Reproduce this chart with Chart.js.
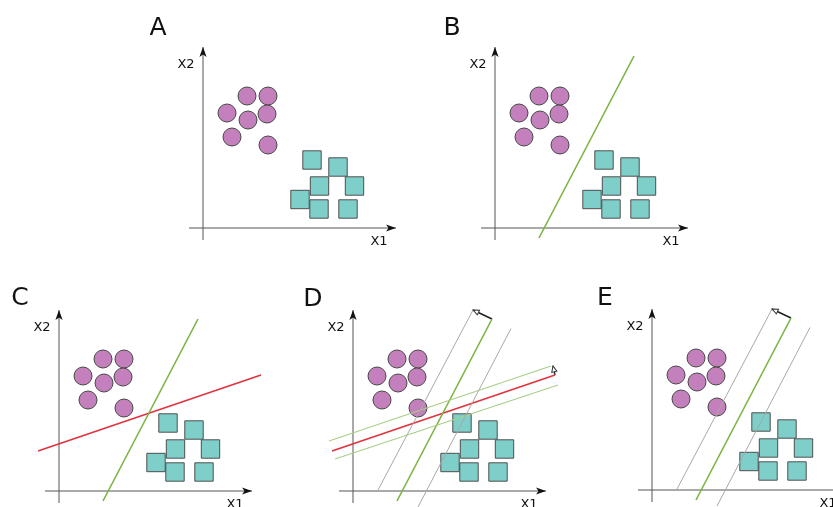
<!DOCTYPE html>
<html lang="en">
<head>
<meta charset="UTF-8">
<script src="https://cdn.jsdelivr.net/npm/chart.js"></script>
<title>Separating hyperplanes</title>
<style>
  body { margin: 0; width: 833px; height: 507px; overflow: hidden; background: #fff; position: relative; }
  canvas { position: absolute; }
</style>
</head>
<body>
<canvas id="panelA" width="270" height="240" style="left:143px;top:13px"></canvas>
<canvas id="panelB" width="270" height="240" style="left:435px;top:13px"></canvas>
<canvas id="panelC" width="270" height="240" style="left:-1px;top:276px"></canvas>
<canvas id="panelD" width="270" height="240" style="left:293px;top:276px"></canvas>
<canvas id="panelE" width="270" height="240" style="left:592px;top:275px"></canvas>

<script>
// class 1 (circles) and class 2 (squares), same in every panel
const circleX = [4.4, 6.5, 2.4, 4.5, 6.4, 2.9, 6.5];
const circleY = [13.2, 13.2, 11.5, 10.8, 11.4, 9.1, 8.3];
const squareX = [10.9, 13.5, 11.65, 15.15, 9.7, 11.6, 14.5];
const squareY = [6.8, 6.1, 4.2, 4.2, 2.85, 1.9, 1.9];

// axes (from, to)
const xAxisRange = [-1.4, 19.3];
const yAxisRange = [-1.2, 18.1];

// lines as [x1, y1, x2, y2]
const greenBoundary = [4.4, -1.0, 13.9, 17.2];
const redBoundary = [-2.1, 4.0, 20.2, 11.6];
const greenMarginLeft = [2.45, 0, 12.0, 18.1];
const greenMarginRight = [6.5, -1.6, 15.8, 16.25];
const redMarginUpper = [-2.4, 5.0, 19.8, 12.5];
const redMarginLower = [-1.8, 3.2, 20.5, 10.6];
const greenMarginArrow = [13.9, 17.2, 12.0, 18.1];
const redMarginArrow = [20.2, 11.6, 20.0, 12.5];

const lineStyles = {
  green:       { seg: greenBoundary,    color: '#7cb342', width: 1.6 },
  red:         { seg: redBoundary,      color: '#e2323e', width: 1.6 },
  grayLeft:    { seg: greenMarginLeft,  color: '#a8a8a8', width: 1 },
  grayRight:   { seg: greenMarginRight, color: '#a8a8a8', width: 1 },
  redUp:       { seg: redMarginUpper,   color: '#a9cf88', width: 1.2 },
  redLow:      { seg: redMarginLower,   color: '#a9cf88', width: 1.2 },
  greenArrow:  { seg: greenMarginArrow, color: '#222', width: 1.6, arrow: 'open' },
  redArrow:    { seg: redMarginArrow,   color: '#222', width: 1.4, arrow: 'open' }
};

const panels = [
  { id: 'panelA', letter: 'A', lx: -4.5, ly: 19.3, lines: [] },
  { id: 'panelB', letter: 'B', lx: -4.3, ly: 19.3, lines: ['green'] },
  { id: 'panelC', letter: 'C', lx: -3.9, ly: 18.6, lines: ['green', 'red'] },
  { id: 'panelD', letter: 'D', lx: -4.0, ly: 18.55,
    lines: ['grayLeft', 'grayRight', 'redUp', 'redLow', 'green', 'red', 'greenArrow', 'redArrow'] },
  { id: 'panelE', letter: 'E', lx: -4.7, ly: 18.5, lines: ['grayLeft', 'grayRight', 'green', 'greenArrow'] }
];

function seg2pts(s) {
  return [{ x: s[0], y: s[1] }, { x: s[2], y: s[3] }];
}

const arrowPlugin = {
  id: 'arrowHeads',
  afterDatasetsDraw(chart) {
    const ctx = chart.ctx;
    chart.data.datasets.forEach((ds, i) => {
      if (!ds.arrowHead) return;
      const pts = chart.getDatasetMeta(i).data;
      const a = pts[pts.length - 2], b = pts[pts.length - 1];
      const ang = Math.atan2(b.y - a.y, b.x - a.x);
      ctx.save();
      ctx.translate(b.x, b.y);
      ctx.rotate(ang);
      ctx.beginPath();
      if (ds.arrowHead === 'solid') {
        ctx.moveTo(0, 0);
        ctx.lineTo(-10, -3.6);
        ctx.lineTo(-7.5, 0);
        ctx.lineTo(-10, 3.6);
        ctx.closePath();
        ctx.fillStyle = '#111';
        ctx.fill();
      } else {
        ctx.moveTo(0, 0);
        ctx.lineTo(-6, -2.6);
        ctx.lineTo(-6, 2.6);
        ctx.closePath();
        ctx.fillStyle = '#fff';
        ctx.fill();
        ctx.lineWidth = 1;
        ctx.strokeStyle = '#333';
        ctx.stroke();
      }
      ctx.restore();
    });
  }
};

const textPlugin = {
  id: 'panelText',
  afterDraw(chart, args, opts) {
    const ctx = chart.ctx;
    const xs = chart.scales.x, ys = chart.scales.y;
    ctx.save();
    ctx.fillStyle = '#111';
    ctx.textAlign = 'center';
    ctx.textBaseline = 'alphabetic';
    opts.items.forEach(t => {
      ctx.font = t.font;
      ctx.fillText(t.text, xs.getPixelForValue(t.x), ys.getPixelForValue(t.y));
    });
    ctx.restore();
  }
};

panels.forEach(p => {
  const datasets = [];

  p.lines.forEach(name => {
    const st = lineStyles[name];
    datasets.push({
      data: seg2pts(st.seg),
      showLine: true,
      borderColor: st.color,
      borderWidth: st.width,
      pointRadius: 0,
      arrowHead: st.arrow,
      order: 0
    });
  });

  datasets.push({
    data: circleX.map((x, i) => ({ x: x, y: circleY[i] })),
    pointStyle: 'circle',
    pointRadius: 9,
    backgroundColor: '#c47fbd',
    borderColor: '#474747',
    borderWidth: 1,
    order: 1
  });
  datasets.push({
    data: squareX.map((x, i) => ({ x: x, y: squareY[i] })),
    pointStyle: 'rect',
    pointRadius: 13,
    backgroundColor: '#7ecfca',
    borderColor: '#4d4d4d',
    borderWidth: 1,
    order: 1
  });

  // axes
  datasets.push({
    data: [{ x: xAxisRange[0], y: 0 }, { x: xAxisRange[1], y: 0 }],
    showLine: true, borderColor: '#555', borderWidth: 1, pointRadius: 0,
    arrowHead: 'solid', order: 2
  });
  datasets.push({
    data: [{ x: 0, y: yAxisRange[0] }, { x: 0, y: yAxisRange[1] }],
    showLine: true, borderColor: '#555', borderWidth: 1, pointRadius: 0,
    arrowHead: 'solid', order: 2
  });

  new Chart(document.getElementById(p.id), {
    type: 'scatter',
    data: { datasets: datasets },
    options: {
      responsive: false,
      animation: false,
      events: [],
      layout: { padding: 0, autoPadding: false },
      scales: {
        x: { type: 'linear', min: -6, max: 21, display: false },
        y: { type: 'linear', min: -2.5, max: 21.5, display: false }
      },
      plugins: {
        legend: { display: false },
        tooltip: { enabled: false },
        panelText: {
          items: [
            { text: p.letter, x: p.lx, y: p.ly, font: '25px "DejaVu Sans"' },
            { text: 'X2', x: -1.7, y: 16.0, font: '13px "DejaVu Sans"' },
            { text: 'X1', x: 17.6, y: -1.65, font: '13px "DejaVu Sans"' }
          ]
        }
      }
    },
    plugins: [arrowPlugin, textPlugin]
  });
});
</script>
</body>
</html>
